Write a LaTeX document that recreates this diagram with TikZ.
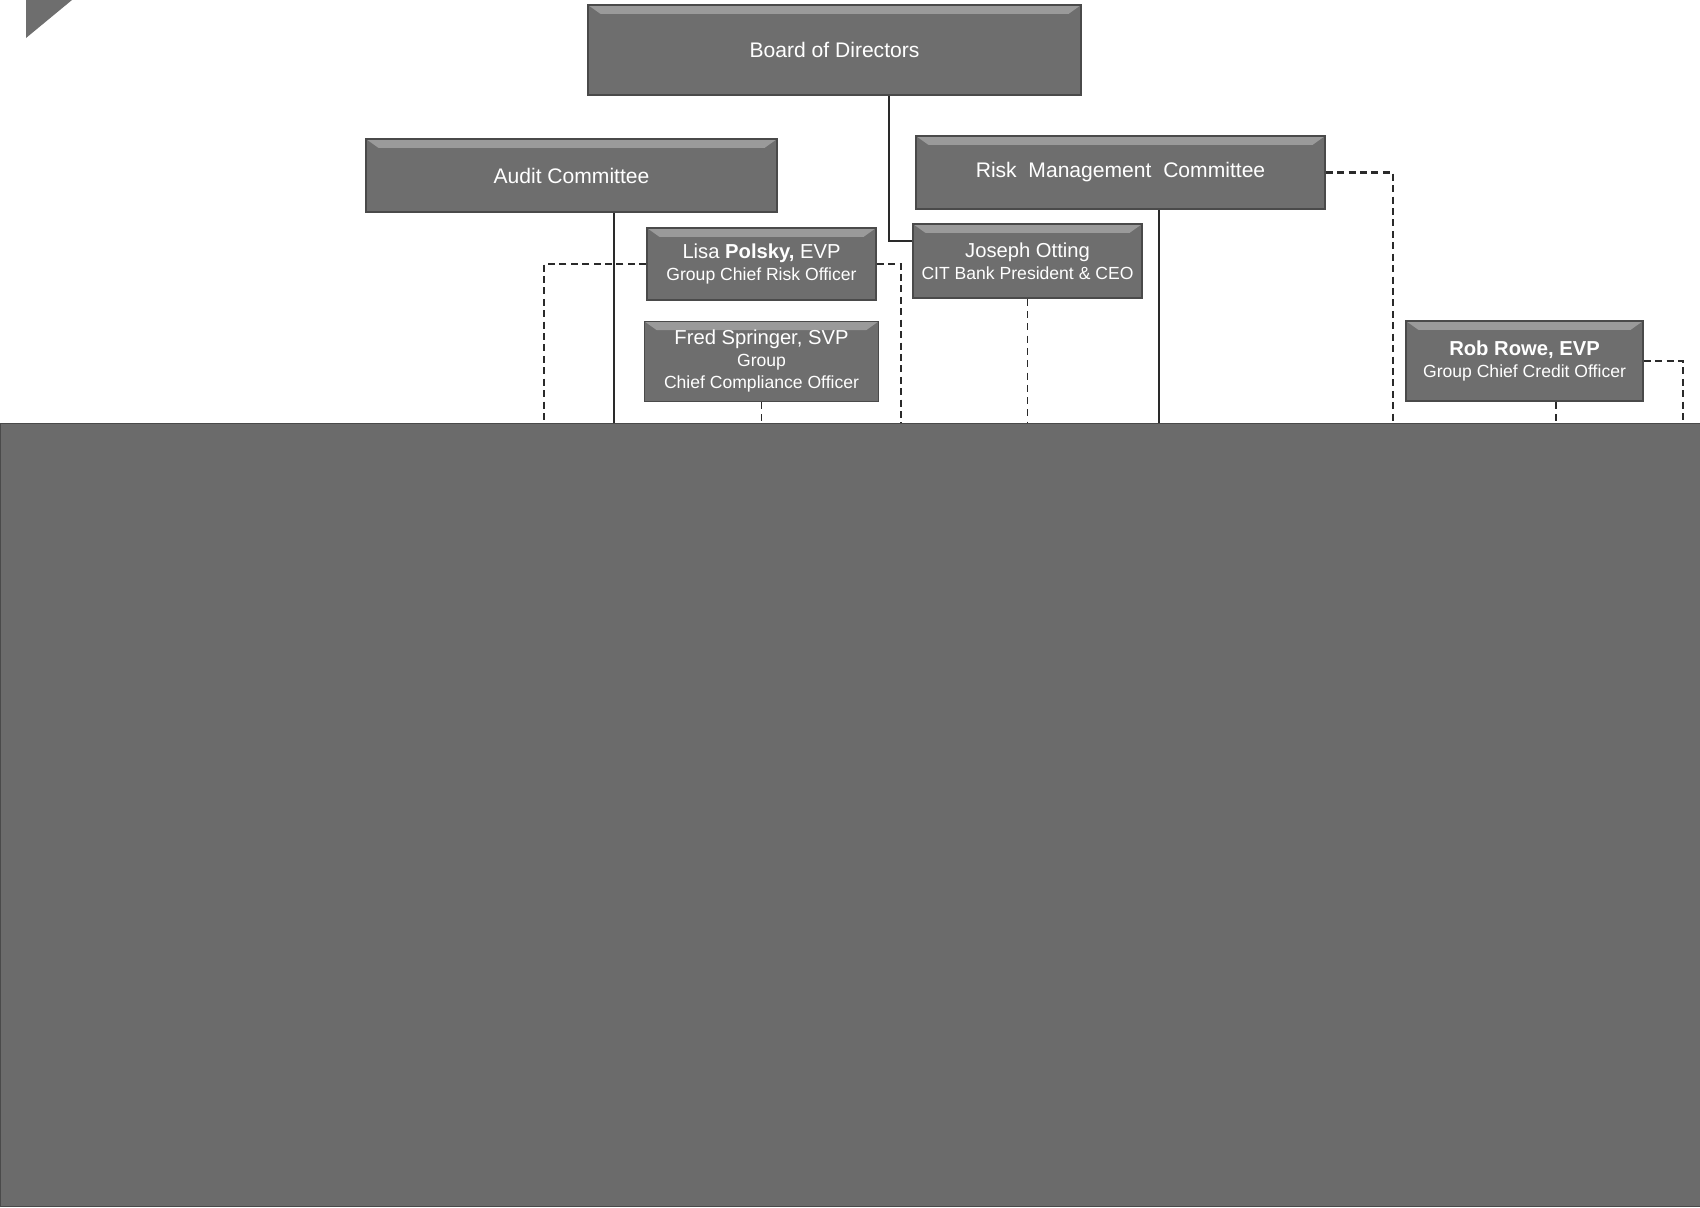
\documentclass[tikz,border=0pt]{standalone}
\usepackage{fontspec}
\setmainfont{Liberation Sans}
\usepackage{tikz}
\usetikzlibrary{positioning,calc}
\definecolor{boxfill}{HTML}{6E6E6E}
\definecolor{bevtop}{HTML}{9A9A9A}
\definecolor{boxedge}{HTML}{4A4A4A}
\definecolor{cover}{HTML}{6B6B6B}
\definecolor{lnk}{HTML}{2A2A2A}
\tikzset{
  orgbox/.style={rectangle, draw=boxedge, fill=boxfill, line width=0.8pt,
                 text=white, align=center, inner sep=1pt,
                 path picture={\fill[bevtop]
                   (path picture bounding box.north west) -- (path picture bounding box.north east)
                   -- ([xshift=-7pt,yshift=-5pt]path picture bounding box.north east)
                   -- ([xshift=7pt,yshift=-5pt]path picture bounding box.north west) -- cycle;}},
  wide/.style={orgbox, minimum height=1.46cm, font=\fontsize{12}{14}\selectfont},
  person/.style={orgbox, font=\fontsize{11.5}{12.5}\selectfont},
  solidln/.style={draw=lnk, line width=0.8pt},
  dotln/.style={draw=lnk, line width=1.3pt, dash pattern=on 4pt off 2.5pt},
  thinln/.style={draw=lnk, line width=0.7pt, dash pattern=on 4pt off 3pt}
}
\newcommand{\subttl}[1]{{\fontsize{10}{12}\selectfont #1}}
\begin{document}
\begin{tikzpicture}
\useasboundingbox (0,0) rectangle (34,-24.16);
% corner mark and lower cover
\fill[boxfill] (0.52,0) -- (1.44,0) -- (0.52,-0.76) -- cycle;
\node[rectangle, fill=cover, draw=boxedge, minimum width=34cm, minimum height=15.66cm,
      inner sep=0pt, anchor=north west] (cov) at (0,-8.46) {};
% boxes
\node[wide, minimum width=9.86cm, minimum height=1.8cm] (bod) at (16.69,-1.0) {Board of Directors};
\node[wide, minimum width=8.22cm] (aud) at (11.43,-3.51) {Audit Committee};
\node[wide, minimum width=8.18cm] (rmc) at (22.41,-3.45) {Risk~~Management~~Committee};
\node[person, minimum width=4.58cm, minimum height=1.44cm] (lpo) at (15.23,-5.28)
  {Lisa \textbf{Polsky,} EVP\\\subttl{Group Chief Risk Officer}};
\node[person, minimum width=4.58cm, minimum height=1.48cm] (jot) at (20.55,-5.22)
  {Joseph Otting\\\subttl{CIT Bank President \& CEO}};
\node[person, minimum width=4.68cm, minimum height=1.6cm, below=0.4cm of lpo] (fsp)
  {Fred Springer, SVP\\\subttl{Group}\\\subttl{Chief Compliance Officer}};
\node[person, minimum width=4.74cm, minimum height=1.6cm] (rro) at (30.49,-7.22)
  {\textbf{Rob Rowe, EVP}\\\subttl{Group Chief Credit Officer}};
% reporting lines
\draw[solidln] ([xshift=1.09cm]bod.south) |- ([yshift=0.4cm]jot.west);
\draw[solidln] ([xshift=0.85cm]aud.south) -- ([xshift=0.85cm]aud.south |- cov.north);
\draw[solidln] ([xshift=0.77cm]rmc.south) -- ([xshift=0.77cm]rmc.south |- cov.north);
\draw[dotln] (lpo.west) -| (10.88,0 |- cov.north);
\draw[dotln] (lpo.east) -| (18.02,0 |- cov.north);
\draw[dotln] (rmc.east) -| (27.86,0 |- cov.north);
\draw[dotln] (rro.east) -| (33.66,0 |- cov.north);
\draw[thinln] (fsp.south) -- (fsp.south |- cov.north);
\draw[thinln] (jot.south) -- (jot.south |- cov.north);
\draw[thinln] ([xshift=0.63cm]rro.south) -- ([xshift=0.63cm]rro.south |- cov.north);
\end{tikzpicture}
\end{document}
